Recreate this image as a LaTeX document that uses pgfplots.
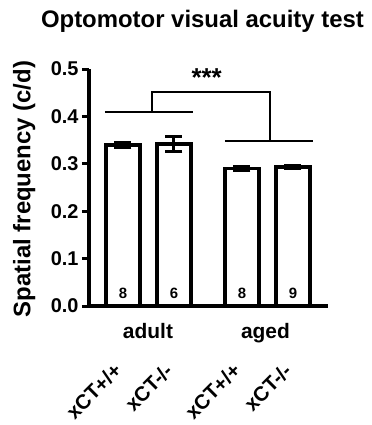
\documentclass[border=0pt]{standalone}
\usepackage{fontspec}
\setmainfont{Liberation Sans}
\usepackage{pgfplots}
\pgfplotsset{compat=1.18}
\pgfplotstableread{
x y e
2 0.340 0.005
5 0.341 0.016
9 0.290 0.004
12 0.294 0.003
}\acuity
\begin{document}
\begin{tikzpicture}[
  nlab/.style={anchor=base, inner sep=0, font=\fontsize{15}{15}\selectfont\bfseries},
  glab/.style={anchor=base, inner sep=0, font=\fontsize{21}{21}\selectfont\bfseries},
  rlab/.style={rotate=45, anchor=east, inner sep=0, font=\fontsize{20.5}{20.5}\selectfont\bfseries},
]
\useasboundingbox (-89bp,-119bp) rectangle (283bp,306bp);
\begin{axis}[
  at={(0,0)}, anchor=south west,
  scale only axis, width=239bp, height=237bp,
  xmin=0, xmax=14.06, ymin=0, ymax=0.5,
  axis x line=bottom, axis y line=left,
  axis line style={-, line width=3.8bp, black},
  xtick=\empty,
  ytick={0,0.1,0.2,0.3,0.4,0.5},
  scaled y ticks=false,
  /pgf/number format/assume math mode=true,
  yticklabel style={font=\fontsize{20}{20}\selectfont\bfseries,
    /pgf/number format/.cd, fixed, precision=1, fixed zerofill},
  y tick style={line width=3bp, black},
  tick align=outside, major tick length=7bp,
  clip=false,
]
\addplot[ybar, bar width=34bp, fill=white, draw=black, line width=3.8bp,
  error bars/.cd, y dir=both, y explicit,
  error bar style={line width=3bp, black},
  error mark options={rotate=90, mark size=8.5bp, line width=3bp, black}]
  table[x=x, y=y, y error=e] {\acuity};

% significance bracket
\draw[line width=2bp] (axis cs:0.94,0.4086) -- (axis cs:6.14,0.4086);
\draw[line width=2bp] (axis cs:8.0,0.3475) -- (axis cs:13.19,0.3475);
\draw[line width=2bp] (axis cs:3.69,0.4086) -- (axis cs:3.69,0.452) -- (axis cs:10.65,0.452) -- (axis cs:10.65,0.3475);
\node[font=\fontsize{26}{26}\selectfont\bfseries] at (axis cs:6.92,0.482) {***};

% n inside bars
\node[nlab] at ([yshift=8bp]axis cs:2,0) {8};
\node[nlab] at ([yshift=8bp]axis cs:5,0) {6};
\node[nlab] at ([yshift=8bp]axis cs:9,0) {8};
\node[nlab] at ([yshift=8bp]axis cs:12,0) {9};
% group labels
\node[glab] at ([yshift=-32bp]axis cs:3.47,0) {adult};
\node[glab] at ([yshift=-32bp]axis cs:10.38,0) {aged};
% genotype labels
\node[rlab] at ([xshift=-5bp,yshift=-61bp]axis cs:2,0) {xCT+/+};
\node[rlab] at ([xshift=-5bp,yshift=-61bp]axis cs:5,0) {xCT-/-};
\node[rlab] at ([xshift=-5bp,yshift=-61bp]axis cs:9,0) {xCT+/+};
\node[rlab] at ([xshift=-5bp,yshift=-61bp]axis cs:12,0) {xCT-/-};
\end{axis}
% title and y label
\node[anchor=base, inner sep=0, font=\fontsize{24}{24}\selectfont\bfseries] at (113.5bp,278bp) {Optomotor visual acuity test};
\node[rotate=90, anchor=base, inner sep=0, font=\fontsize{24}{24}\selectfont\bfseries] at (-58.5bp,117bp) {Spatial frequency (c/d)};
\end{tikzpicture}
\end{document}
